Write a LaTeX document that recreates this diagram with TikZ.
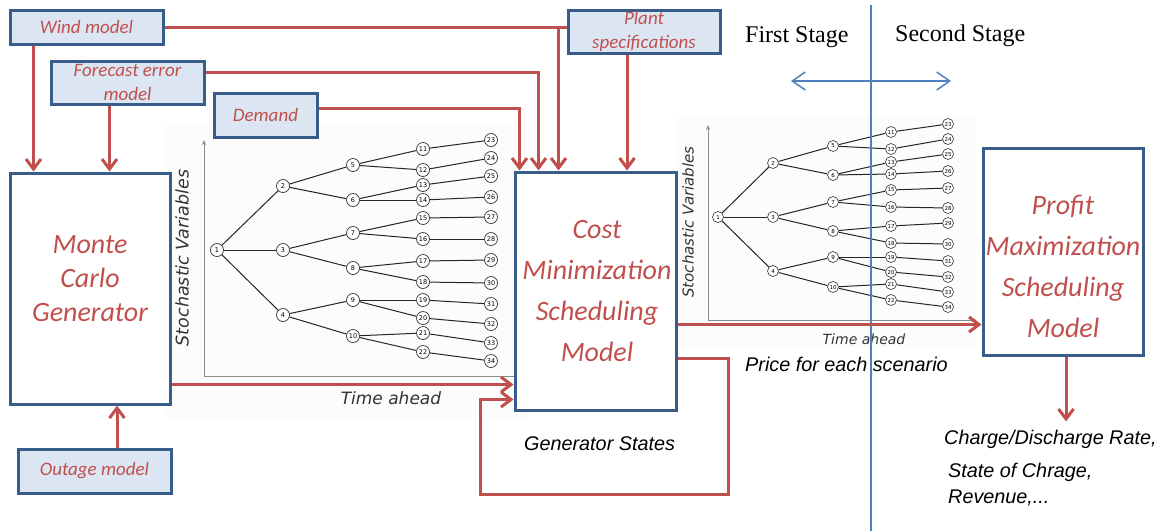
\documentclass[tikz,border=0pt]{standalone}
\usepackage{fontspec}
\setmainfont{Liberation Serif}
\newfontfamily\carlito{Carlito}
\newfontfamily\arialf{Liberation Sans}
\newfontfamily\verd{DejaVu Sans}
\usetikzlibrary{arrows.meta,calc}

\definecolor{accred}{HTML}{C0504D}
\definecolor{boxblue}{HTML}{385D8A}
\definecolor{boxfill}{HTML}{DCE6F2}
\definecolor{stageblue}{HTML}{4F81BD}
\definecolor{axisgray}{HTML}{8C8C8C}
\definecolor{chartbg}{HTML}{FCFCFC}

\tikzset{
  smallbox/.style={draw=boxblue, line width=3pt, fill=boxfill, inner sep=0pt,
    font=\carlito\itshape\fontsize{19}{24}\selectfont, text=accred, align=center},
  bigbox/.style={draw=boxblue, line width=3pt, fill=white, inner sep=0pt},
  bigtext/.style={font=\carlito\itshape\fontsize{28}{34}\selectfont, text=accred, align=center},
  feed/.style={draw=accred, line width=3pt},
  feedarrow/.style={feed, -{Straight Barb[length=10pt,width=15pt]}},
  stageline/.style={draw=stageblue, line width=1.2pt},
  axisline/.style={draw=axisgray, line width=0.9pt, -{Stealth[length=5pt,width=4pt]}},
  axislabel/.style={font=\verd\itshape, text=black!80},
  tnodeA/.style={circle, draw=black!80, line width=0.7pt, fill=white, inner sep=0pt,
    minimum size=13pt, font=\verd\fontsize{6.5}{6.5}\selectfont},
  tnodeB/.style={circle, draw=black!80, line width=0.6pt, fill=white, inner sep=0pt,
    minimum size=11pt, font=\verd\fontsize{5.5}{5.5}\selectfont},
  tedge/.style={draw=black!85, line width=1pt},
  note/.style={font=\arialf\itshape\fontsize{19.8}{22}\selectfont, text=black, inner sep=0pt},
  stagetext/.style={font=\fontsize{24}{27}\selectfont, text=black, inner sep=0pt}
}

\begin{document}
\begin{tikzpicture}[x=1pt,y=-1pt]
\useasboundingbox (0,0) rectangle (1169,531);

% ---------- scenario tree charts ----------
\fill[chartbg] (166,122) rectangle (530,418);
\fill[chartbg] (676,116) rectangle (976,348);

% first tree
\draw[axisline] (204,376) -- (204,140);
\draw[axisline] (204,376) -- (528,376);
\node[axislabel, rotate=90, font=\verd\itshape\fontsize{17.5}{20}\selectfont] (sv1) at (182,258) {Stochastic Variables};
\node[axislabel, font=\verd\itshape\fontsize{17}{20}\selectfont] (ta1) at (391,398) {Time ahead};

\foreach \n/\x/\y in {1/217/250, 2/283/186, 3/283/250, 4/283/315, 5/353/165, 6/353/200,
  7/353/233, 8/353/268, 9/353/300, 10/353/336, 11/423/149, 12/423/170, 13/423/185,
  14/423/200, 15/423/218, 16/423/239, 17/423/261, 18/423/282, 19/423/300, 20/423/318,
  21/423/333, 22/423/352, 23/491/140, 24/491/158, 25/491/176, 26/491/197, 27/491/217,
  28/491/239, 29/491/260, 30/491/283, 31/491/304, 32/491/324, 33/491/343, 34/491/361}
  \node[tnodeA] (a\n) at (\x,\y) {\n};

% second tree
\draw[axisline] (708,320) -- (708,125);
\draw[axisline] (708,320) -- (976,320);
\node[axislabel, rotate=90, font=\verd\itshape\fontsize{15}{18}\selectfont] (sv2) at (688,222) {Stochastic Variables};
\node[axislabel, font=\verd\itshape\fontsize{14}{16}\selectfont] (ta2) at (864,339) {Time ahead};

\foreach \n/\x/\y in {1/718/217, 2/773/163, 3/773/217, 4/773/271, 5/833/146, 6/833/175,
  7/833/202, 8/833/231, 9/833/257, 10/833/287, 11/891/132, 12/891/149, 13/891/162,
  14/891/174, 15/891/190, 16/891/207, 17/891/226, 18/891/243, 19/891/257, 20/891/272,
  21/891/284, 22/891/300, 23/948/124, 24/948/139, 25/948/154, 26/948/171, 27/948/188,
  28/948/208, 29/948/223, 30/948/244, 31/948/261, 32/948/277, 33/948/292, 34/948/307}
  \node[tnodeB] (b\n) at (\x,\y) {\n};

\foreach \p/\c in {1/2,1/3,1/4,2/5,2/6,3/7,3/8,4/9,4/10,5/11,5/12,6/13,6/14,7/15,7/16,
  8/17,8/18,9/19,9/20,10/21,10/22,11/23,12/24,13/25,14/26,15/27,16/28,17/29,18/30,
  19/31,20/32,21/33,22/34}{
  \draw[tedge] (a\p) -- (a\c);
  \draw[tedge] (b\p) -- (b\c);
}

% ---------- stage divider ----------
\draw[stageline] (871,5) -- (871,531);
\draw[stageline, line width=1.5pt, {Straight Barb[length=13pt,width=18pt]}-{Straight Barb[length=13pt,width=18pt]}] (791,81) -- (951,81);
\node[stagetext, anchor=base west] (st1) at (745,42) {First Stage};
\node[stagetext, anchor=base west] (st2) at (895,41) {Second Stage};

% ---------- input models ----------
\node[smallbox, minimum width=153pt, minimum height=34pt] (wind) at (86.5,27) {Wind model};
\node[smallbox, minimum width=153pt, minimum height=43pt] (fcst) at (127.5,82.5) {Forecast error\\model};
\node[smallbox, minimum width=103pt, minimum height=44pt] (dem) at (265.5,115) {Demand};
\node[smallbox, minimum width=152pt, minimum height=43pt] (plant) at (644,31.5) {Plant\\specifications};
\node[smallbox, minimum width=153pt, minimum height=44pt] (outage) at (94.5,471) {Outage model};

% ---------- main models ----------
\node[bigbox, minimum width=160pt, minimum height=231pt] (mc) at (90,288.5) {};
\node[bigtext] (mct) at (90,279) {Monte\\Carlo\\Generator};
\node[bigbox, minimum width=161pt, minimum height=238pt] (cost) at (595.5,291) {};
\node[bigtext, font=\carlito\itshape\fontsize{28}{40.7}\selectfont] (costt) at (597,291) {Cost\\Minimization\\Scheduling\\Model};
\node[bigbox, minimum width=160pt, minimum height=207pt] (prof) at (1063,251.5) {};
\node[bigtext, font=\carlito\itshape\fontsize{28}{41}\selectfont] (proft) at (1063,266) {Profit\\Maximization\\Scheduling\\Model};

% ---------- data flow ----------
\coordinate (wj) at ($(cost.north west)+(45,0)$);
\coordinate (fj) at ($(cost.north west)+(25,0)$);
\coordinate (dj) at ($(cost.north west)+(6,0)$);
\draw[feed] (wind.east -| wj) -- (wind.east -| plant.west);
\draw[feedarrow] (wind.east) -| (wj);
\draw[feedarrow] ([yshift=10.5pt]fcst.east) -| (fj);
\draw[feedarrow] ([yshift=7pt]dem.east) -| (dj);
\draw[feedarrow] ([xshift=-17pt]plant.south) -- ([xshift=-17pt]plant.south |- cost.north);

\draw[feedarrow] ([xshift=25pt]wind.south west) -- ([xshift=25pt]wind.south west |- mc.north);
\draw[feedarrow] ([xshift=60pt]fcst.south west) -- ([xshift=60pt]fcst.south west |- mc.north);
\draw[feedarrow] ([xshift=22.5pt]outage.north) -- ([xshift=22.5pt]outage.north |- mc.south);

\coordinate (mco) at ($(mc.south east)+(0,-21)$);
\draw[feedarrow] (mco) -- (mco -| cost.west);

\coordinate (gs) at ($(cost.south east)+(0,-53)$);
\coordinate (gsin) at ($(cost.south west)+(-33,-12)$);
\draw[feedarrow] (gs) -- ++(51,0) |- ($(gsin)+(0,95)$) -- (gsin) -- (gsin -| cost.west);

\coordinate (pr) at ($(cost.south east)+(0,-87)$);
\draw[feedarrow] (pr) -- (pr -| prof.west);

\coordinate (res) at ($(prof.south)+(3,65)$);
\draw[feedarrow] ([xshift=3pt]prof.south) -- (res);

% ---------- annotations ----------
\node[note, anchor=base west] (price) at (745,371) {Price for each scenario};
\node[note, anchor=base west] (gst) at (524,450) {Generator States};
\node[note, anchor=base west] (out1) at (944,444) {Charge/Discharge Rate,};
\node[note, anchor=base west] (out2) at (948,477) {State of Chrage,};
\node[note, anchor=base west] (out3) at (948,503) {Revenue,...};
\end{tikzpicture}
\end{document}
